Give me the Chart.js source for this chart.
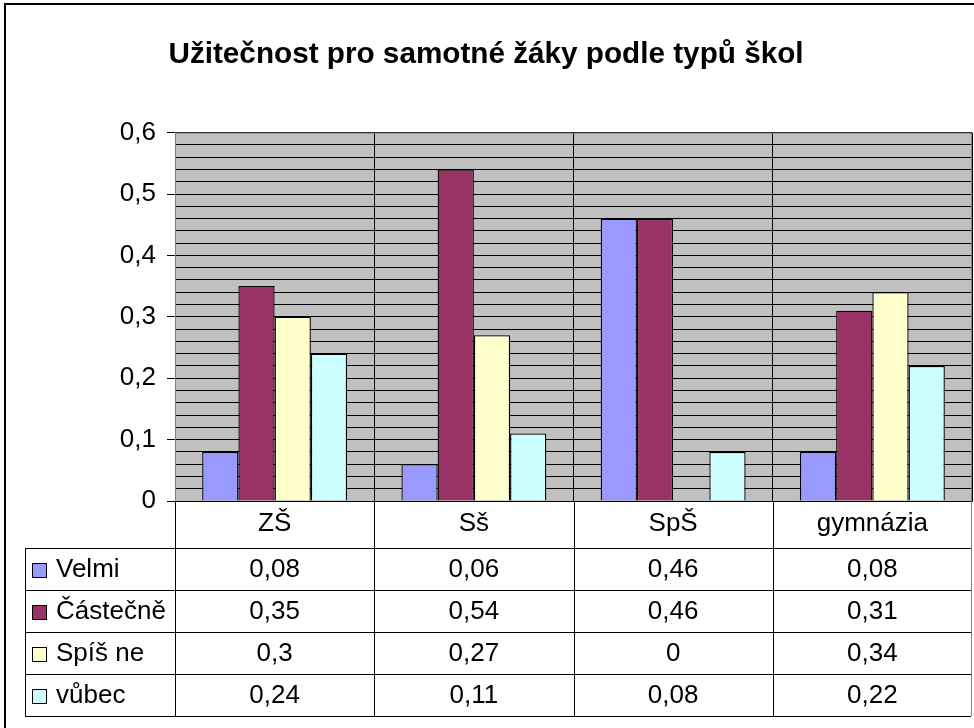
<!DOCTYPE html>
<html>
<head>
<meta charset="utf-8">
<script src="https://cdn.jsdelivr.net/npm/chart.js@4"></script>
<style>
  body { margin: 0; background: #fff; }
  canvas { display: block; }
</style>
</head>
<body>
<canvas id="chart" width="974" height="728"></canvas>
<script>
const categories = ['ZŠ', 'Sš', 'SpŠ', 'gymnázia'];
const seriesNames = ['Velmi', 'Částečně', 'Spíš ne', 'vůbec'];
const velmi = [0.08, 0.06, 0.46, 0.08];
const castecne = [0.35, 0.54, 0.46, 0.31];
const spisNe = [0.3, 0.27, 0, 0.34];
const vubec = [0.24, 0.11, 0.08, 0.22];
const seriesColors = ['#9999FF', '#993366', '#FFFFCC', '#CCFFFF'];

const FONT = 'Liberation Sans, Arial, sans-serif';
const TEXT_SIZE = 26;

function fmt(v) {
  return String(Math.round(v * 100) / 100).replace('.', ',');
}
function isMajor(v) {
  return Math.round(v * 50) % 5 === 0;
}

// plot background, outer frame and the data table under the axis
const tablePlugin = {
  id: 'tablePlugin',
  beforeDraw(chart) {
    const ctx = chart.ctx;
    const a = chart.chartArea;
    ctx.save();
    ctx.fillStyle = '#C0C0C0';
    ctx.fillRect(a.left, a.top, a.right - a.left, a.bottom - a.top);
    ctx.strokeStyle = '#000';
    ctx.lineWidth = 2;
    ctx.strokeRect(5, 4, 1000, 1000);
    ctx.restore();
  },
  afterDraw(chart) {
    const ctx = chart.ctx;
    const a = chart.chartArea;
    const x = chart.scales.x;
    const rowH = 42;
    const top = a.bottom + 47;
    const tableLeft = 25;
    const bottom = top + rowH * seriesNames.length;
    const half = (x.getPixelForValue(1) - x.getPixelForValue(0)) / 2;
    const all = [velmi, castecne, spisNe, vubec];
    ctx.save();
    // plot area top / right border
    ctx.strokeStyle = '#808080';
    ctx.lineWidth = 1;
    ctx.beginPath();
    ctx.moveTo(a.left, a.top + 0.5);
    ctx.lineTo(a.right - 0.5, a.top + 0.5);
    ctx.lineTo(a.right - 0.5, bottom);
    ctx.stroke();

    ctx.strokeStyle = '#000';
    ctx.beginPath();
    for (let r = 0; r <= seriesNames.length; r++) {
      const y = Math.round(top + r * rowH) + 0.5;
      ctx.moveTo(tableLeft, y);
      ctx.lineTo(a.right - 1, y);
    }
    ctx.moveTo(tableLeft + 0.5, top);
    ctx.lineTo(tableLeft + 0.5, bottom + 0.5);
    for (let i = 0; i < categories.length; i++) {
      const lx = Math.round(x.getPixelForValue(i) - half) + 0.5;
      ctx.moveTo(lx, a.bottom);
      ctx.lineTo(lx, bottom + 0.5);
    }
    ctx.stroke();

    ctx.font = TEXT_SIZE + 'px ' + FONT;
    ctx.fillStyle = '#000';
    ctx.textBaseline = 'middle';
    seriesNames.forEach((name, r) => {
      const cy = top + r * rowH + rowH / 2 + 1;
      ctx.fillStyle = seriesColors[r];
      ctx.fillRect(32, cy - 7, 14, 14);
      ctx.strokeStyle = '#000';
      ctx.strokeRect(32.5, cy - 6.5, 14, 14);
      ctx.fillStyle = '#000';
      ctx.textAlign = 'left';
      ctx.fillText(name, 56, cy);
      ctx.textAlign = 'center';
      all[r].forEach((v, i) => {
        ctx.fillText(fmt(v), x.getPixelForValue(i), cy);
      });
    });
    ctx.restore();
  }
};

new Chart(document.getElementById('chart').getContext('2d'), {
  type: 'bar',
  data: {
    labels: categories,
    datasets: [velmi, castecne, spisNe, vubec].map((d, i) => ({
      label: seriesNames[i],
      data: d,
      backgroundColor: seriesColors[i],
      borderColor: '#000',
      borderWidth: 1.3,
      categoryPercentage: 4 / 5.5,
      barPercentage: 1
    }))
  },
  options: {
    responsive: false,
    animation: false,
    devicePixelRatio: 1,
    layout: { padding: { left: 0, right: 2, top: 0, bottom: 180 } },
    plugins: {
      legend: { display: false },
      tooltip: { enabled: false },
      title: {
        display: true,
        text: 'Užitečnost pro samotné žáky podle typů škol',
        color: '#000',
        font: { family: FONT, size: 29.7, weight: 'bold' },
        padding: { top: 37, bottom: 60 }
      }
    },
    scales: {
      x: {
        offset: true,
        grid: { color: '#000', drawTicks: false, offset: true },
        border: { color: '#000' },
        ticks: { color: '#000', font: { family: FONT, size: TEXT_SIZE }, padding: 7 },
        afterFit(scale) { scale.height = 47; }
      },
      y: {
        min: 0,
        max: 0.6,
        grid: {
          color: '#000',
          tickLength: 8,
          tickColor: ctx => (ctx.tick && isMajor(ctx.tick.value)) ? '#000' : 'rgba(0,0,0,0)'
        },
        border: { color: '#808080' },
        ticks: {
          stepSize: 0.02,
          autoSkip: false,
          color: '#000',
          padding: 11,
          font: { family: FONT, size: TEXT_SIZE },
          callback: v => isMajor(v) ? fmt(v) : ''
        },
        afterFit(scale) { scale.width = 175; }
      }
    }
  },
  plugins: [tablePlugin]
});
</script>
</body>
</html>
